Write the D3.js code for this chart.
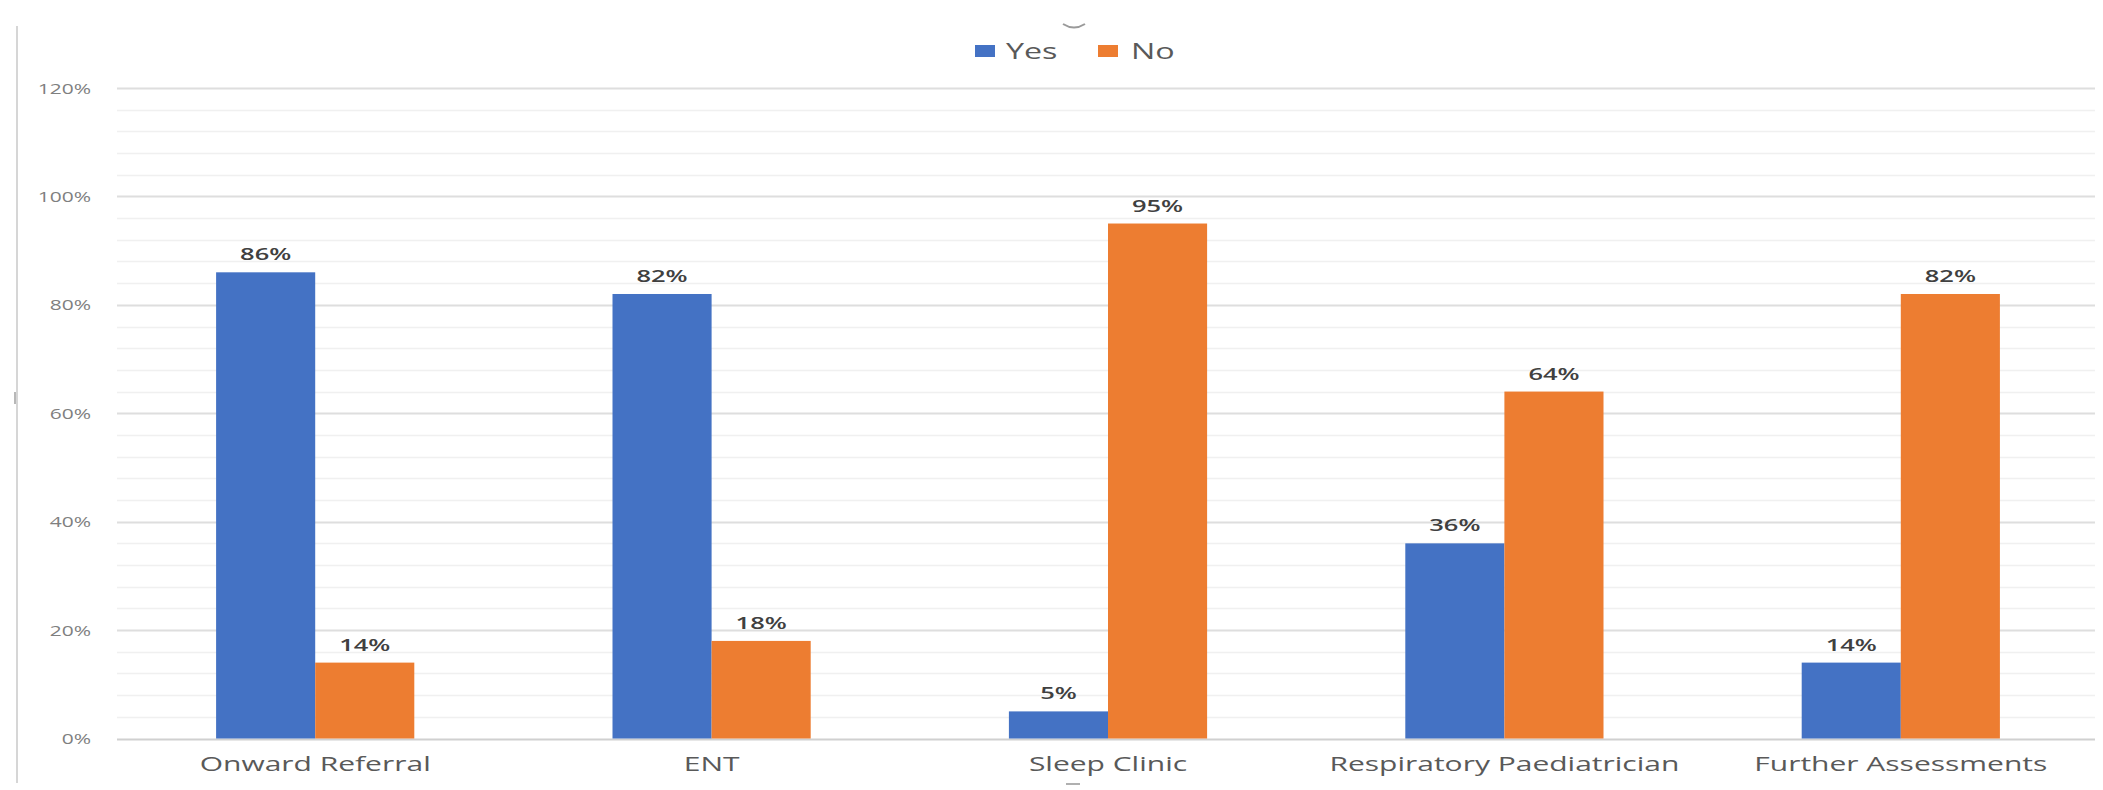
<!DOCTYPE html>
<html>
<head>
<meta charset="utf-8">
<script src="https://cdn.jsdelivr.net/npm/d3@7/dist/d3.min.js"></script>
<style>
  html, body { margin: 0; padding: 0; background: #ffffff; }
  svg { display: block; }
  text { font-family: "Open Sans", "Liberation Sans", sans-serif; }
</style>
</head>
<body>
<svg id="chart" width="2103" height="790"></svg>
<script>
// ---- data ----
const categories = ["Onward Referral", "ENT", "Sleep Clinic", "Respiratory Paediatrician", "Further Assessments"];
const seriesNames = ["Yes", "No"];
const yesValues = [0.86, 0.82, 0.05, 0.36, 0.14];
const noValues  = [0.14, 0.18, 0.95, 0.64, 0.82];
const yTicks = [0, 0.2, 0.4, 0.6, 0.8, 1.0, 1.2];
const seriesColors = ["#4472C4", "#ED7D31"];

// ---- layout ----
const W = 2103, H = 790;
const plotLeft = 117, plotRight = 2099, plotTop = 88, plotBottom = 738.5;
const SX = 1.5; // horizontal stretch of the reference text

const svg = d3.select("#chart");
svg.append("rect").attr("width", W).attr("height", H).attr("fill", "#ffffff");

const x = d3.scaleBand().domain(categories).range([plotLeft, plotRight])
  .paddingInner(0.5).paddingOuter(0.25);
const xs = d3.scaleBand().domain(seriesNames).range([0, x.bandwidth()]);
const y = d3.scaleLinear().domain([0, 1.2]).range([plotBottom, plotTop]);

// frame edge + handles
svg.append("line").attr("x1", 17).attr("x2", 17).attr("y1", 26).attr("y2", 783)
  .attr("stroke", "#d6d6d6").attr("stroke-width", 2);
svg.append("path").attr("d", "M1063,24 Q1074,31 1085,24").attr("fill", "none")
  .attr("stroke", "#9a9a9a").attr("stroke-width", 2);
svg.append("line").attr("x1", 1066).attr("x2", 1080).attr("y1", 784).attr("y2", 784)
  .attr("stroke", "#b0b0b0").attr("stroke-width", 2);
svg.append("line").attr("x1", 15).attr("x2", 15).attr("y1", 392).attr("y2", 404)
  .attr("stroke", "#b8b8b8").attr("stroke-width", 2);

// minor gridlines (every 4%)
const minor = d3.range(0, 1.2001, 0.04).filter(v => Math.abs(v / 0.2 - Math.round(v / 0.2)) > 1e-6);
svg.append("g").selectAll("line").data(minor).join("line")
  .attr("x1", plotLeft).attr("x2", plotRight - 4)
  .attr("y1", d => Math.round(y(d)) + 0.5).attr("y2", d => Math.round(y(d)) + 0.5)
  .attr("stroke", "#f0f0f0").attr("stroke-width", 1.5);
// major gridlines
svg.append("g").selectAll("line").data(yTicks).join("line")
  .attr("x1", plotLeft).attr("x2", plotRight - 4)
  .attr("y1", d => Math.round(y(d)) + 0.5).attr("y2", d => Math.round(y(d)) + 0.5)
  .attr("stroke", d => d === 0 ? "#d0d0d0" : "#dedede").attr("stroke-width", 2);

// y axis labels
const yAxisG = svg.append("g").attr("transform", `translate(91,0) scale(${SX},1)`)
  .call(d3.axisLeft(y).tickValues(yTicks).tickFormat(d3.format(".0%")).tickSize(0).tickPadding(0));
yAxisG.select(".domain").remove();
yAxisG.selectAll("text").attr("font-size", 14).attr("fill", "#7f7f7f")
  .attr("font-family", "\"Open Sans\", sans-serif").attr("dy", "0.36em");

// bars
const rows = categories.map((c, i) => ({ cat: c, values: [yesValues[i], noValues[i]] }));
const groups = svg.append("g").selectAll("g").data(rows).join("g")
  .attr("transform", d => `translate(${x(d.cat)},0)`);
groups.selectAll("rect").data(d => d.values.map((v, j) => ({ s: seriesNames[j], v, j })))
  .join("rect")
  .attr("x", d => xs(d.s)).attr("width", xs.bandwidth())
  .attr("y", d => y(d.v)).attr("height", d => y(0) - y(d.v))
  .attr("fill", d => seriesColors[d.j]);

// data labels
groups.selectAll("g.lbl").data(d => d.values.map((v, j) => ({ s: seriesNames[j], v, j })))
  .join("g").attr("class", "lbl")
  .attr("transform", d => `translate(${xs(d.s) + xs.bandwidth() / 2},${y(d.v) - 12}) scale(${SX},1)`)
  .append("text").attr("text-anchor", "middle").attr("font-size", 17).attr("font-weight", 600)
  .attr("fill", "#404040").text(d => d3.format(".0%")(d.v));

// category labels
svg.append("g").selectAll("g").data(categories).join("g")
  .attr("transform", d => `translate(${x(d) + x.bandwidth() / 2},771) scale(${SX},1)`)
  .append("text").attr("text-anchor", "middle").attr("font-size", 20).attr("fill", "#595959")
  .text(d => d);

// legend
const legendItems = [
  { name: seriesNames[0], color: seriesColors[0], sq: 975, tx: 1006 },
  { name: seriesNames[1], color: seriesColors[1], sq: 1098, tx: 1131 }
];
const lg = svg.append("g");
lg.selectAll("rect").data(legendItems).join("rect")
  .attr("x", d => d.sq).attr("y", 45).attr("width", 20).attr("height", 12)
  .attr("fill", d => d.color);
lg.selectAll("g").data(legendItems).join("g")
  .attr("transform", d => `translate(${d.tx},59) scale(${SX},1)`)
  .append("text").attr("font-size", 21.5).attr("fill", "#595959").text(d => d.name);
</script>
</body>
</html>
